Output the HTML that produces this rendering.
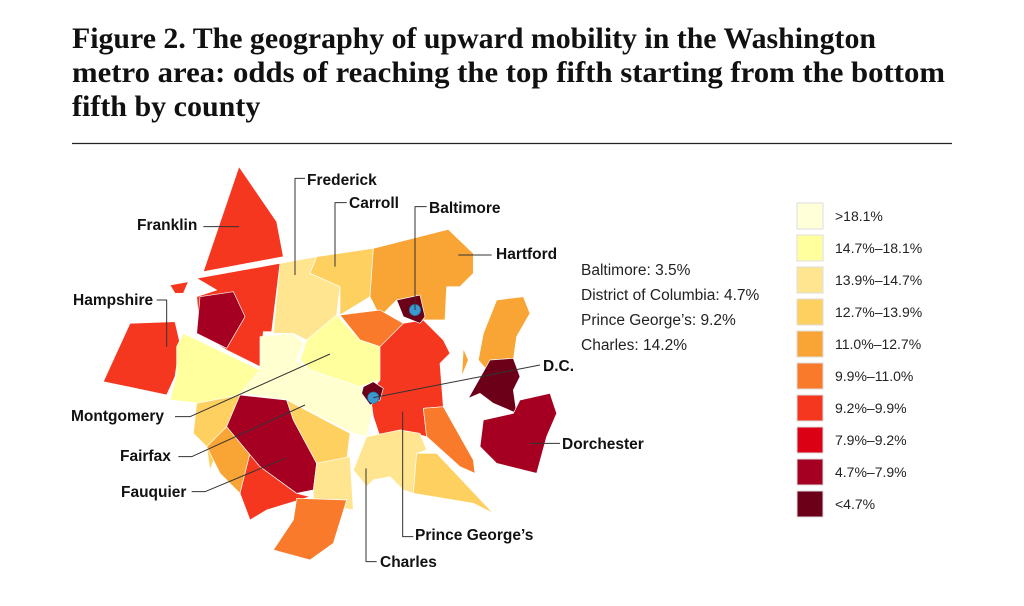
<!DOCTYPE html>
<html><head><meta charset="utf-8"><style>
html,body{margin:0;padding:0;background:#fff;}
svg{display:block;}
.t{font-family:"Liberation Serif",serif;font-weight:bold;font-size:30px;fill:#111;}
.l{font-family:"Liberation Sans",sans-serif;font-weight:bold;font-size:15.5px;fill:#111;}
.s{font-family:"Liberation Sans",sans-serif;font-size:15.5px;fill:#222;}
.g{font-family:"Liberation Sans",sans-serif;font-size:14px;fill:#222;}
</style></head><body>
<svg width="1024" height="606" viewBox="0 0 1024 606">
<text class="t" x="72" y="48" textLength="804" lengthAdjust="spacingAndGlyphs">Figure 2. The geography of upward mobility in the Washington</text>
<text class="t" x="72" y="82" textLength="873" lengthAdjust="spacingAndGlyphs">metro area: odds of reaching the top fifth starting from the bottom</text>
<text class="t" x="72" y="116">fifth by county</text>
<line x1="72" y1="143.5" x2="952" y2="143.5" stroke="#222" stroke-width="1.2"/>
<g transform="translate(60,160) scale(0.33333)" stroke="#fff" stroke-width="2" stroke-linejoin="round">
<polygon fill="#f5371f" points="537,20 650,185 670,290 430,335"/>
<polygon fill="#f5371f" points="410,355 660,310 635,515 610,515 600,620 500,570 420,520 410,410 470,390"/>
<polygon fill="#a50021" points="420,410 520,395 555,470 500,565 410,520"/>
<polygon fill="#f5371f" points="330,375 385,365 370,400 345,400"/>
<polygon fill="#f5371f" points="210,490 345,485 360,550 345,650 320,705 130,665"/>
<polygon fill="#ffff9e" points="370,520 600,630 560,700 420,730 330,720 350,640 350,560"/>
<polygon fill="#ffffd0" points="600,530 700,520 730,550 710,600 750,630 900,680 940,740 920,830 880,820 680,720 540,700 600,630"/>
<polygon fill="#ffe590" points="660,310 770,290 750,340 840,380 830,465 740,540 700,520 640,520"/>
<polygon fill="#fdd060" points="770,290 940,265 930,410 840,465 840,380 750,340"/>
<polygon fill="#f9a535" points="940,265 1165,208 1240,280 1240,340 1200,380 1160,380 1155,480 1090,480 1010,420 960,470 930,410"/>
<polygon fill="#f97a2a" points="840,465 960,450 1030,490 990,570 900,540"/>
<polygon fill="#ffff9e" points="740,540 830,465 900,540 990,570 960,660 900,680 750,630 720,600"/>
<polygon fill="#f5371f" points="960,560 1030,490 1090,480 1150,540 1170,580 1140,610 1150,740 1090,745 1100,830 1020,810 960,830 940,770 930,700 960,660"/>
<polygon fill="#f97a2a" points="1090,745 1150,740 1240,900 1245,940 1200,920 1100,830"/>
<polygon fill="#ffe590" points="920,830 1020,810 1080,820 1100,870 1070,880 1060,1000 1030,990 990,950 940,960 920,980 880,930"/>
<polygon fill="#fdd060" points="1070,880 1130,880 1300,1060 1240,1030 1060,1000"/>
<polygon fill="#fdd060" points="410,730 540,705 500,800 450,930 440,860 400,820"/>
<polygon fill="#f9a535" points="440,860 500,800 570,880 540,1000 480,940"/>
<polygon fill="#f5371f" points="500,800 600,920 710,1000 750,1010 620,1050 570,1080 540,1000 570,880"/>
<polygon fill="#a50021" points="540,705 680,720 700,780 770,910 760,990 710,1000 600,920 500,800"/>
<polygon fill="#fdd060" points="680,720 870,820 860,900 770,910 700,780"/>
<polygon fill="#ffe590" points="770,910 870,890 880,1050 760,1030 760,990"/>
<polygon fill="#f97a2a" points="710,1015 860,1020 820,1150 750,1200 640,1170 700,1080"/>
<polygon fill="#f9a535" points="1310,420 1390,410 1410,460 1370,530 1360,600 1280,630 1255,600 1270,520"/>
<polygon fill="#f9a535" points="1210,565 1225,600 1205,650"/>
<polygon fill="#6b0018" points="1225,715 1290,600 1360,595 1380,650 1360,690 1370,760 1300,730 1260,700"/>
<polygon fill="#a50021" points="1270,780 1360,760 1380,720 1470,700 1490,760 1460,830 1430,940 1310,910 1260,860"/>
<polygon fill="#6b0018" points="1010,420 1080,405 1095,470 1080,490 1030,470"/>
<polygon fill="#6b0018" points="910,680 940,665 970,685 960,720 930,735 905,700"/>
<circle cx="1065" cy="450" r="17" fill="#3a9ad0" stroke="#1e6f9f"/>
<circle cx="940" cy="713" r="17" fill="#3a9ad0" stroke="#1e6f9f"/>
<g fill="none" stroke="#333" stroke-width="3">
<polyline points="430,200 537,200"/>
<polyline points="735,55 705,55 705,345"/>
<polyline points="860,128 825,128 825,320"/>
<polyline points="1100,140 1065,140 1065,450"/>
<polyline points="1295,285 1195,285"/>
<polyline points="290,420 320,420 320,560"/>
<polyline points="1440,615 940,713"/>
<polyline points="345,770 390,770 810,582"/>
<polyline points="355,890 395,890 735,735"/>
<polyline points="395,995 435,995 675,895"/>
<polyline points="1500,850 1410,850"/>
<polyline points="1060,1130 1028,1130 1028,755"/>
<polyline points="950,1205 918,1205 918,925"/>
</g>
</g>
<text class="l" x="137" y="230">Franklin</text>
<text class="l" x="307" y="185">Frederick</text>
<text class="l" x="349" y="208">Carroll</text>
<text class="l" x="429" y="213">Baltimore</text>
<text class="l" x="496" y="259">Hartford</text>
<text class="l" x="73" y="305">Hampshire</text>
<text class="l" x="543" y="371">D.C.</text>
<text class="l" x="71" y="421">Montgomery</text>
<text class="l" x="120" y="461">Fairfax</text>
<text class="l" x="121" y="497">Fauquier</text>
<text class="l" x="562" y="449">Dorchester</text>
<text class="l" x="415" y="540">Prince George’s</text>
<text class="l" x="380" y="567">Charles</text>
<text class="s" x="581" y="275">Baltimore: 3.5%</text>
<text class="s" x="581" y="300">District of Columbia: 4.7%</text>
<text class="s" x="581" y="325">Prince George’s: 9.2%</text>
<text class="s" x="581" y="350">Charles: 14.2%</text>
<g stroke="#ddd" stroke-width="1">
<rect x="797" y="203" width="26" height="26" fill="#ffffd8"/>
<rect x="797" y="235" width="26" height="26" fill="#ffff9e"/>
<rect x="797" y="267" width="26" height="26" fill="#ffe590"/>
<rect x="797" y="299" width="26" height="26" fill="#fdd060"/>
<rect x="797" y="331" width="26" height="26" fill="#f9a535"/>
<rect x="797" y="363" width="26" height="26" fill="#f97a2a"/>
<rect x="797" y="395" width="26" height="26" fill="#f5371f"/>
<rect x="797" y="427" width="26" height="26" fill="#dc0015"/>
<rect x="797" y="459" width="26" height="26" fill="#a50021"/>
<rect x="797" y="491" width="26" height="26" fill="#6b0018"/>
</g>
<text class="g" x="835" y="221">&gt;18.1%</text>
<text class="g" x="835" y="253">14.7%–18.1%</text>
<text class="g" x="835" y="285">13.9%–14.7%</text>
<text class="g" x="835" y="317">12.7%–13.9%</text>
<text class="g" x="835" y="349">11.0%–12.7%</text>
<text class="g" x="835" y="381">9.9%–11.0%</text>
<text class="g" x="835" y="413">9.2%–9.9%</text>
<text class="g" x="835" y="445">7.9%–9.2%</text>
<text class="g" x="835" y="477">4.7%–7.9%</text>
<text class="g" x="835" y="509">&lt;4.7%</text>
</svg>
</body></html>
